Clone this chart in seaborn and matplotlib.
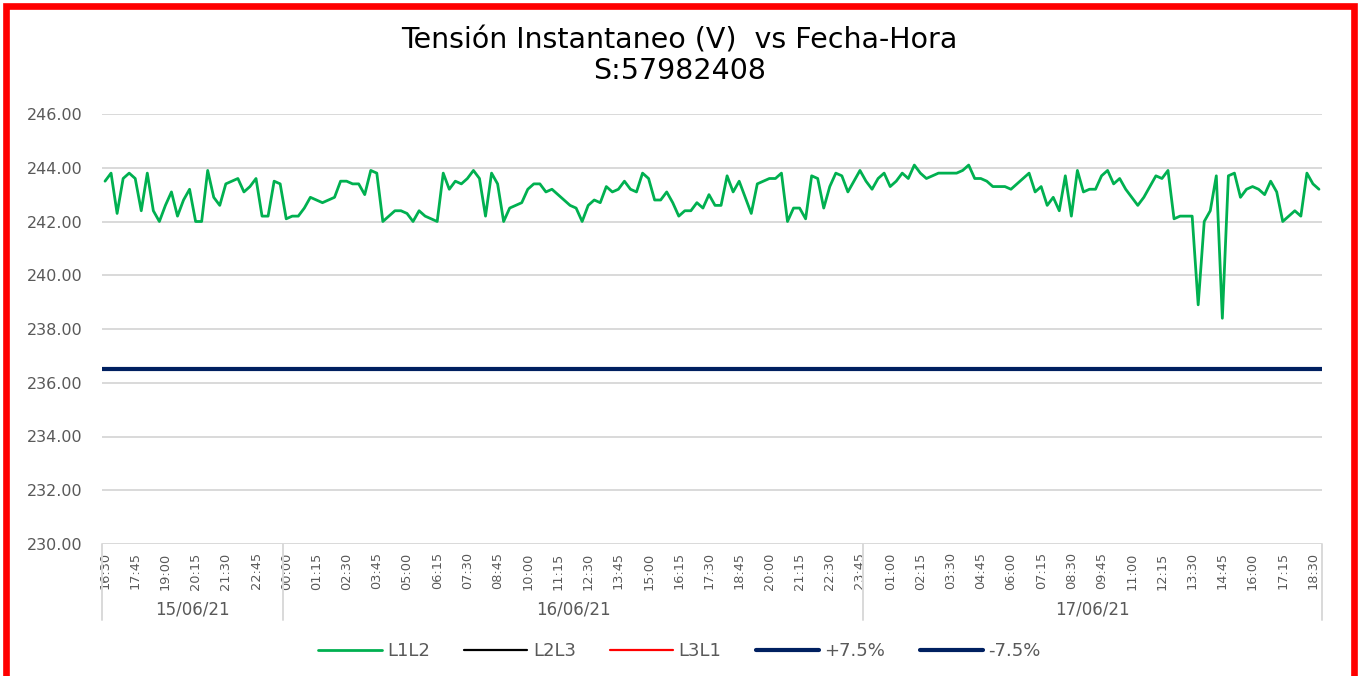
import numpy as np
import pandas as pd
import matplotlib
matplotlib.use("Agg")
import matplotlib.pyplot as plt
import matplotlib.patches as mpatches
from matplotlib.lines import Line2D
import seaborn as sns

# ---- data -------------------------------------------------------------
start_time = "2021-06-15 16:30"
sample_freq = "15min"

l1l2 = [
    243.5, 243.8, 242.3, 243.6, 243.8, 243.6, 242.4, 243.8, 242.4, 242.0,
    242.6, 243.1, 242.2, 242.8, 243.2, 242.0, 242.0, 243.9, 242.9, 242.6,
    243.4, 243.5, 243.6, 243.1, 243.3, 243.6, 242.2, 242.2, 243.5, 243.4,
    242.1, 242.2, 242.2, 242.5, 242.9, 242.8, 242.7, 242.8, 242.9, 243.5,
    243.5, 243.4, 243.4, 243.0, 243.9, 243.8, 242.0, 242.2, 242.4, 242.4,
    242.3, 242.0, 242.4, 242.2, 242.1, 242.0, 243.8, 243.2, 243.5, 243.4,
    243.6, 243.9, 243.6, 242.2, 243.8, 243.4, 242.0, 242.5, 242.6, 242.7,
    243.2, 243.4, 243.4, 243.1, 243.2, 243.0, 242.8, 242.6, 242.5, 242.0,
    242.6, 242.8, 242.7, 243.3, 243.1, 243.2, 243.5, 243.2, 243.1, 243.8,
    243.6, 242.8, 242.8, 243.1, 242.7, 242.2, 242.4, 242.4, 242.7, 242.5,
    243.0, 242.6, 242.6, 243.7, 243.1, 243.5, 242.9, 242.3, 243.4, 243.5,
    243.6, 243.6, 243.8, 242.0, 242.5, 242.5, 242.1, 243.7, 243.6, 242.5,
    243.3, 243.8, 243.7, 243.1, 243.5, 243.9, 243.5, 243.2, 243.6, 243.8,
    243.3, 243.5, 243.8, 243.6, 244.1, 243.8, 243.6, 243.7, 243.8, 243.8,
    243.8, 243.8, 243.9, 244.1, 243.6, 243.6, 243.5, 243.3, 243.3, 243.3,
    243.2, 243.4, 243.6, 243.8, 243.1, 243.3, 242.6, 242.9, 242.4, 243.7,
    242.2, 243.9, 243.1, 243.2, 243.2, 243.7, 243.9, 243.4, 243.6, 243.2,
    242.9, 242.6, 242.9, 243.3, 243.7, 243.6, 243.9, 242.1, 242.2, 242.2,
    242.2, 238.9, 242.0, 242.4, 243.7, 238.4, 243.7, 243.8, 242.9, 243.2,
    243.3, 243.2, 243.0, 243.5, 243.1, 242.0, 242.2, 242.4, 242.2, 243.8,
    243.4, 243.2,
]
l2l3 = []
l3l1 = []

limit_plus = 236.5     # 220 V + 7.5 %
limit_minus = 203.5    # 220 V - 7.5 %

y_ticks = [230, 232, 234, 236, 238, 240, 242, 244, 246]
tick_every = 5

title_line1 = "Tensión Instantaneo (V)  vs Fecha-Hora"
title_line2 = "S:57982408"

# ---- derived tables ---------------------------------------------------
stamps = pd.date_range(start_time, periods=len(l1l2), freq=sample_freq)
df = pd.DataFrame({"pos": np.arange(len(l1l2)), "stamp": stamps, "L1L2": l1l2})
df["day"] = df["stamp"].dt.strftime("%d/%m/%y")
df["hm"] = df["stamp"].dt.strftime("%H:%M")

# ---- figure -----------------------------------------------------------
W, H = 1359, 676
sns.set_theme(style="white")
plt.rcParams["font.family"] = ["DejaVu Sans"]
fig = plt.figure(figsize=(W / 100, H / 100), dpi=100)
fig.patch.set_facecolor("white")

ax_l, ax_r, ax_t, ax_b = 102, 1322, 114, 544
ax = fig.add_axes([ax_l / W, 1 - ax_b / H, (ax_r - ax_l) / W, (ax_b - ax_t) / H])
ax.set_facecolor("white")

grey_txt = "#595959"
grid_col = "#d9d9d9"
green = "#00b050"
navy = "#002060"

sns.lineplot(data=df, x="pos", y="L1L2", ax=ax, color=green, linewidth=2.0,
             label="L1L2", legend=False, zorder=3)
h_l2l3, = ax.plot(l2l3, color="black", linewidth=1.6, label="L2L3")
h_l3l1, = ax.plot(l3l1, color="red", linewidth=1.6, label="L3L1")
h_plus = ax.axhline(limit_plus, color=navy, linewidth=3.0, label="+7.5%", zorder=2)
h_minus = ax.axhline(limit_minus, color=navy, linewidth=3.0, label="-7.5%", zorder=2)

ax.set_xlim(-0.5, len(l1l2) - 0.5)
ax.set_ylim(y_ticks[0], y_ticks[-1])
ax.set_yticks(y_ticks)
ax.set_yticklabels([f"{v:.2f}" for v in y_ticks], color=grey_txt, fontsize=11.5)
ax.grid(axis="y", color=grid_col, linewidth=1.4)
ax.grid(axis="x", visible=False)
for s in ax.spines.values():
    s.set_visible(False)
ax.set_xlabel("")
ax.set_ylabel("")
ax.tick_params(axis="y", length=0, pad=14)

xt = df["pos"][::tick_every]
ax.set_xticks(xt)
ax.set_xticklabels(df["hm"][::tick_every], rotation=90, fontsize=9.3,
                   color=grey_txt, va="top")
ax.tick_params(axis="x", length=0, pad=6)

# day group separators and labels under the time labels
trans = ax.get_xaxis_transform()
sep_depth = -(620 - ax_b) / (ax_b - ax_t)
lab_y = -(610 - ax_b) / (ax_b - ax_t)
groups = df.groupby("day", sort=False)["pos"].agg(["min", "max"])
edges = [groups["min"].iloc[0] - 0.5] + list(groups["max"] + 0.5)
for e in edges:
    ax.plot([e, e], [0, sep_depth], transform=trans, color=grid_col,
            linewidth=1.4, clip_on=False)
for day, row in groups.iterrows():
    ax.text((row["min"] + row["max"]) / 2, lab_y, day, transform=trans,
            ha="center", va="center", fontsize=12, color=grey_txt)

# title
fig.text(0.5, 1 - 40 / H, title_line1, ha="center", va="center",
         fontsize=20.5, color="black")
fig.text(0.5, 1 - 71 / H, title_line2, ha="center", va="center",
         fontsize=20.5, color="black")

# legend
handles = [Line2D([], [], color=green, linewidth=2.0),
           h_l2l3, h_l3l1,
           Line2D([], [], color=navy, linewidth=3.0),
           Line2D([], [], color=navy, linewidth=3.0)]
labels = ["L1L2", "L2L3", "L3L1", "+7.5%", "-7.5%"]
leg = fig.legend(handles, labels, loc="center", ncol=5, frameon=False,
                 bbox_to_anchor=(0.5, 1 - 651 / H), fontsize=13,
                 handlelength=3.5, handletextpad=0.3, columnspacing=1.9)
for t in leg.get_texts():
    t.set_color(grey_txt)

# red outer frame
frame = mpatches.Rectangle((5.5 / W, -0.05), (1354 - 5.5) / W, 1.05 - 6.5 / H,
                           transform=fig.transFigure, fill=False,
                           edgecolor="#ff0000", linewidth=4.8, zorder=10)
fig.patches.append(frame)

fig.savefig("out.png", dpi=100, facecolor="white")
